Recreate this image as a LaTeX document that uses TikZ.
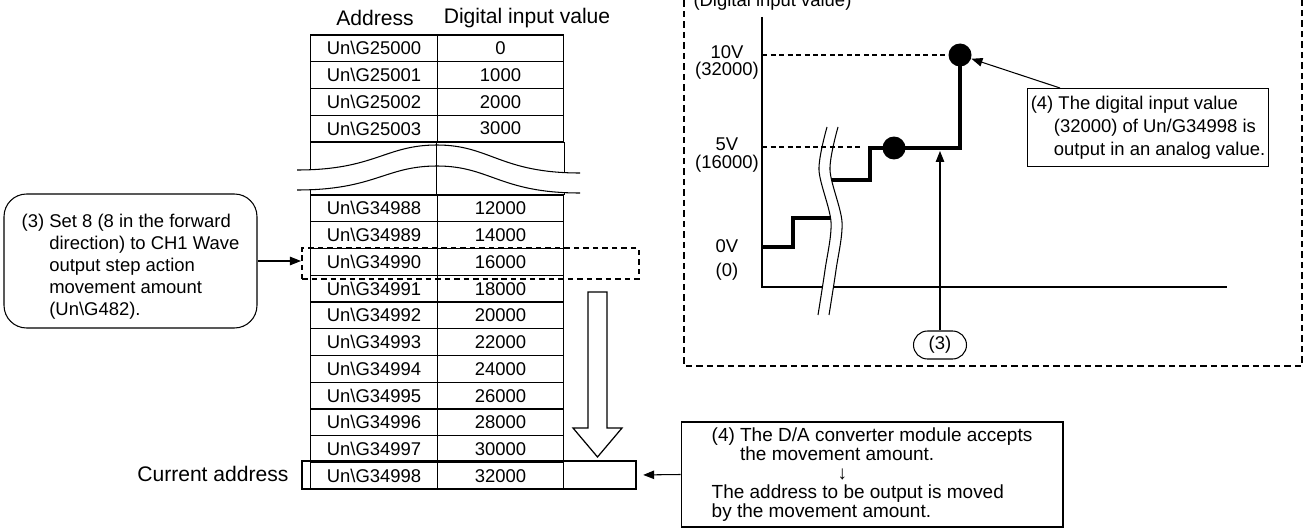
\documentclass[tikz,border=0pt]{standalone}
\usepackage{fontspec}
\setmainfont{Liberation Sans}
\usetikzlibrary{arrows.meta}
\newcommand{\lead}[1][1.5em]{\hspace*{#1}}

\begin{document}
\begin{tikzpicture}[x=0.02cm, y=-0.02cm, line width=0.6pt,
  cell/.style={draw, line width=0.7pt, minimum width=2.53cm, minimum height=0.535cm, inner sep=0pt, font=\fontsize{10.5}{12.6}\selectfont},
  hdr/.style={font=\fontsize{12}{14}\selectfont, inner sep=0pt},
  lbl/.style={font=\fontsize{10.5}{12.6}\selectfont, inner sep=0pt, align=center},
  note/.style={draw, align=left, inner sep=0pt, font=\fontsize{10.5}{13}\selectfont},
  arr/.style={-{Triangle[length=2.2mm, width=1.7mm]}},
  thk/.style={line width=2.8pt},
  lvl/.style={dash pattern=on 1mm off 0.7mm},
  dot/.style={circle, fill, inner sep=0pt, minimum size=0.46cm}
]
\useasboundingbox (0,0) rectangle (1308,530);

% buffer table
\node[hdr] (hadr) at (375,18) {Address};
\node[hdr] (hval) at (527,18) {Digital input value};
\foreach \n/\v [count=\i from 0] in {25000/0, 25001/1000, 25002/2000, 25003/3000} {
  \node[cell] (a\n) at (374,48.4+26.75*\i) {Un\textbackslash G\n};
  \node[cell] (v\n) at (500.5,48.4+26.75*\i) {\v};
}
\foreach \n/\v [count=\i from 0] in {34988/12000, 34989/14000, 34990/16000, 34991/18000, 34992/20000, 34993/22000, 34994/24000, 34995/26000, 34996/28000, 34997/30000, 34998/32000} {
  \node[cell] (a\n) at (374,208.4+26.75*\i) {Un\textbackslash G\n};
  \node[cell] (v\n) at (500.5,208.4+26.75*\i) {\v};
}
\draw[line width=0.7pt] (a25003.south west) rectangle (v34988.north east);
\fill[white] (297,170) .. controls (375,170) and (385,145) .. (437,145) .. controls (490,145) and (500,173) .. (580,173)
  -- (580,193) .. controls (500,193) and (490,166) .. (437,166) .. controls (385,166) and (375,190) .. (297,190) -- cycle;
\draw (297,170) .. controls (375,170) and (385,145) .. (437,145) .. controls (490,145) and (500,173) .. (580,173);
\draw (297,190) .. controls (375,190) and (385,166) .. (437,166) .. controls (490,166) and (500,193) .. (580,193);
\draw[line width=0.7pt] (v25003.south west) -- (v34988.north west);

\node[draw, line width=1.2pt, dash pattern=on 1.1mm off 0.8mm, minimum width=6.74cm, minimum height=0.62cm] (sel) at (470.5,263.5) {};
\node[draw, line width=1.4pt, minimum width=6.68cm, minimum height=0.56cm] (cur) at (469,475) {};
\node[hdr, anchor=east] (curtxt) at (289,474) {Current address};
\draw[line width=0.7pt] (588,292) -- (607,292) -- (607,428) -- (622,428) -- (597.5,457) -- (573,428) -- (588,428) -- cycle;

\node[note, rounded corners=0.45cm, minimum width=5.06cm, minimum height=2.68cm, font=\fontsize{10.5}{12.5}\selectfont] (set) at (130.5,261)
  {\rule{0pt}{14pt}(3) Set 8 (8 in the forward\\\lead direction) to CH1 Wave\\\lead output step action\\\lead movement amount\\\lead (Un\textbackslash G482).};
\draw[arr] (set.east) -- (set.east -| sel.west);

\node[note, minimum width=7.64cm, minimum height=2.1cm, font=\fontsize{10.8}{10.8}\selectfont] (mov) at (872,474.5)
  {(4) The D/A converter module accepts\\\lead the movement amount.\\\lead[2.52cm]↓\\The address to be output is moved\\by the movement amount.};
\draw[arr, shorten >=0.12cm] (mov.west) -- (cur.east);

% output graph
\draw[line width=1.2pt, dash pattern=on 1.3mm off 0.8mm] (684,-10) rectangle (1302,366);
\node[lbl, anchor=base west] (yttl) at (693,7) {(Digital input value)};
\draw (762,17) -- (762,287) -- (1227,287);
\draw[thk] (762,247) -- (793,247) -- (793,218) -- (836,218);
\draw[thk] (823,180) -- (870,180) -- (870,148) -- (960,148) -- (960,55);
\fill[white] plot[smooth] coordinates {(827,127) (819,170) (831,222) (825,270) (818,315)}
  -- plot[smooth] coordinates {(829,315) (836,270) (842,222) (830,170) (838,127)} -- cycle;
\draw plot[smooth] coordinates {(827,127) (819,170) (831,222) (825,270) (818,315)};
\draw plot[smooth] coordinates {(838,127) (830,170) (842,222) (836,270) (829,315)};
\node[dot] (p10) at (960,55) {};
\node[dot] (p5) at (894,148) {};
\coordinate (y10) at (762,55);
\coordinate (y5) at (762,147);
\coordinate (s5) at (863,147);
\draw[lvl] (y10) -- (p10);
\draw[lvl] (y5) -- (s5);
\node[lbl, font=\fontsize{10.5}{9.6}\selectfont] (v10) at (727,62.5) {10V\\(32000)};
\node[lbl, font=\fontsize{10.5}{10.2}\selectfont] (v5) at (727,155) {5V\\(16000)};
\node[lbl, font=\fontsize{10.5}{13.6}\selectfont] (v0) at (727,260) {0V\\(0)};
\node[lbl, draw, rounded corners=0.28cm, minimum width=1.06cm, minimum height=0.56cm] (st3) at (940,345) {(3)};
\coordinate (hit) at (940,151);
\draw[arr] (st3) -- (hit);
\node[note, anchor=north west, minimum width=4.82cm, minimum height=1.56cm] (out) at (1027,88)
  {(4) The digital input value\\\lead[1.25em](32000) of Un/G34998 is\\\lead[1.25em]output in an analog value.};
\draw[arr] ([xshift=0.66cm]out.north west) -- (p10);
\end{tikzpicture}
\end{document}
